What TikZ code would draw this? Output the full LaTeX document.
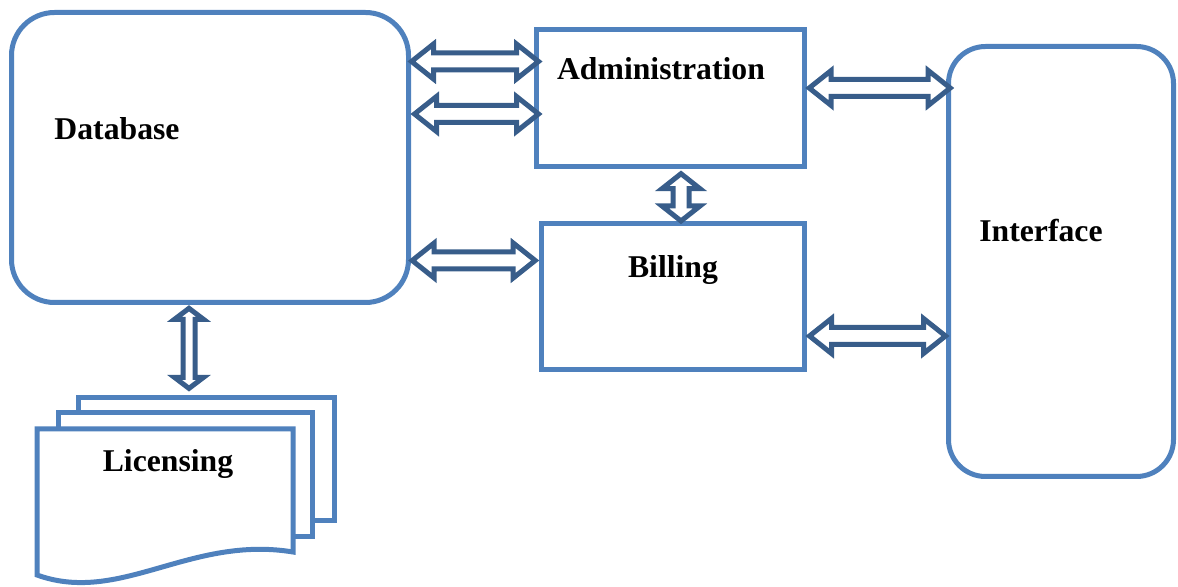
\documentclass[tikz,border=0pt]{standalone}
\usepackage{fontspec}
\setmainfont{Liberation Serif}
\usetikzlibrary{calc}
\definecolor{boxc}{RGB}{79,129,189}
\definecolor{arrowc}{RGB}{56,93,138}
\tikzset{
  box/.style={draw=boxc, line width=2.5pt, fill=white, inner sep=0pt},
  lbl/.style={anchor=base, inner sep=0pt, font=\fontsize{15.85}{19}\selectfont\bfseries},
  harrow/.style n args={3}{draw=arrowc, line width=2.5pt, fill=white,
    to path={(\tikztostart) -- ($(\tikztostart)+(#3,-#2)$) -- ($(\tikztostart)+(#3,-#1)$)
      -- ($(\tikztotarget)+(-#3,-#1)$) -- ($(\tikztotarget)+(-#3,-#2)$) -- (\tikztotarget)
      -- ($(\tikztotarget)+(-#3,#2)$) -- ($(\tikztotarget)+(-#3,#1)$)
      -- ($(\tikztostart)+(#3,#1)$) -- ($(\tikztostart)+(#3,#2)$) -- cycle}},
  varrow/.style n args={3}{draw=arrowc, line width=2.5pt, fill=white,
    to path={(\tikztostart) -- ($(\tikztostart)+(#2,#3)$) -- ($(\tikztostart)+(#1,#3)$)
      -- ($(\tikztotarget)+(#1,-#3)$) -- ($(\tikztotarget)+(#2,-#3)$) -- (\tikztotarget)
      -- ($(\tikztotarget)+(-#2,-#3)$) -- ($(\tikztotarget)+(-#1,-#3)$)
      -- ($(\tikztostart)+(-#1,#3)$) -- ($(\tikztostart)+(-#2,#3)$) -- cycle}},
}
\begin{document}
\begin{tikzpicture}[x=0.5pt, y=-0.5pt]
\useasboundingbox (0,0) rectangle (1178,587);
% boxes
\node[box, rounded corners=21.5pt, minimum width=198.5pt, minimum height=145pt] (db) at (210,157.5) {};
\node[box, minimum width=134pt, minimum height=68.5pt] (adm) at (670.5,98) {};
\node[box, minimum width=131.5pt, minimum height=73pt] (bill) at (673,296.5) {};
\node[box, rounded corners=18.5pt, minimum width=112.5pt, minimum height=215pt] (int) at (1061,261.5) {};
% licensing pages
\node[box, minimum width=128pt, minimum height=61pt] (lic3) at (206,459) {};
\node[box, minimum width=127pt, minimum height=61.5pt] (lic2) at (185,474.5) {};
\draw[box] (37,429) -- (293,429) -- (293,552) .. controls (190,535) and (120,605) .. (37,575) -- cycle;
% labels
\node[lbl] (dbt) at (117,140) {Database};
\node[lbl] (admt) at (661,80) {Administration};
\node[lbl] (billt) at (673,278) {Billing};
\node[lbl] (intt) at (1041,242) {Interface};
\node[lbl] (lict) at (168,472) {Licensing};
% arrows
\draw[harrow={8.5}{17.5}{22}] ($(db.east |- 0,61.5)+(0.5,0)$) to ($(adm.west |- 0,61.5)+(4.5,0)$);
\draw[harrow={8.5}{17.5}{22}] ($(db.east |- 0,114)+(3.5,0)$) to ($(adm.west |- 0,114)+(4.5,0)$);
\draw[harrow={8.5}{17.5}{22}] ($(db.east |- 0,260.5)+(1.2,0)$) to ($(bill.west |- 0,260.5)+(-3.8,0)$);
\draw[harrow={8.5}{17.5}{22}] ($(adm.east |- 0,88)+(2.2,0)$) to ($(int.west |- 0,88)+(4.2,0)$);
\draw[harrow={8.5}{17.5}{22}] ($(bill.east |- 0,336)+(2.5,0)$) to ($(int.west |- 0,336)+(-0.5,0)$);
\draw[varrow={8}{19}{15}] ($(adm.south -| 681,0)+(0,4.7)$) to (bill.north -| 681,0);
\draw[varrow={6}{14.5}{11}] ($(db.south -| 189,0)+(0,3.3)$) to ($(lic3.north -| 189,0)+(0,-7.1)$);
\end{tikzpicture}
\end{document}
